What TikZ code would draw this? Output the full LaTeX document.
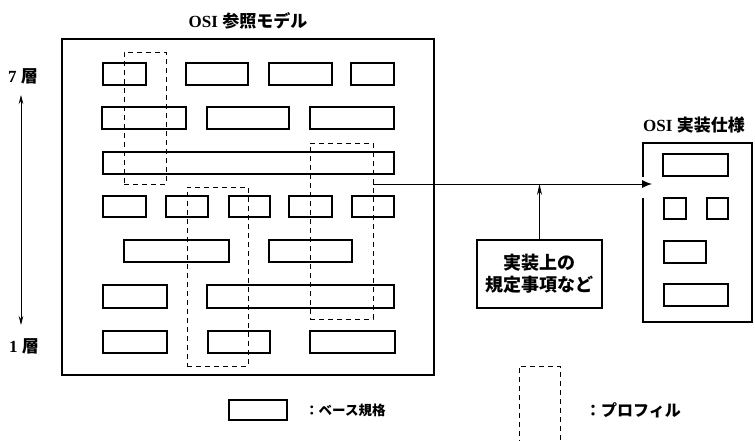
\documentclass[tikz,border=0pt]{standalone}
\usepackage{fontspec}
\setmainfont{Liberation Serif}
\newfontfamily\jp{Noto Sans CJK JP}
\usetikzlibrary{fit,arrows.meta}
\newcommand{\rbox}[6]{\node[#1, fit={(#3,#4) (#5,#6)}] (#2) {};}
\begin{document}
\begin{tikzpicture}[x=1pt,y=-1pt,
  bx/.style={draw, line width=1.3pt, inner sep=0pt, rectangle},
  frame/.style={draw, line width=1.8pt, inner sep=0pt, rectangle},
  prof/.style={draw, line width=0.9pt, inner sep=0pt, rectangle, dash pattern=on 5pt off 4pt},
  lbl/.style={inner sep=0pt, font=\bfseries\fontsize{17}{19}\selectfont},
  conn/.style={line width=1pt}
]
\useasboundingbox (0,0) rectangle (755,441);
% main frame
\rbox{frame}{main}{62}{39}{434}{375}
\node[lbl] (title) at (248,21) {OSI \jp 参照モデル};
% row 1
\rbox{bx}{r1a}{103}{63}{146}{85}
\rbox{bx}{r1b}{186}{63}{248}{85}
\rbox{bx}{r1c}{269}{63}{332}{85}
\rbox{bx}{r1d}{351}{63}{394}{85}
% row 2
\rbox{bx}{r2a}{102}{107}{186}{129}
\rbox{bx}{r2b}{207}{107}{289}{129}
\rbox{bx}{r2c}{310}{107}{394}{129}
% row 3
\rbox{bx}{r3}{103}{152}{394}{174}
% row 4
\rbox{bx}{r4a}{103}{196}{146}{217}
\rbox{bx}{r4b}{166}{196}{208}{217}
\rbox{bx}{r4c}{229}{196}{270}{217}
\rbox{bx}{r4d}{289}{196}{332}{217}
\rbox{bx}{r4e}{352}{196}{394}{217}
% row 5
\rbox{bx}{r5a}{124}{240}{229}{262}
\rbox{bx}{r5b}{269}{240}{352}{262}
% row 6
\rbox{bx}{r6a}{103}{285}{167}{308}
\rbox{bx}{r6b}{207}{285}{394}{308}
% row 7
\rbox{bx}{r7a}{103}{331}{167}{353}
\rbox{bx}{r7b}{208}{331}{270}{353}
\rbox{bx}{r7c}{310}{331}{395}{353}
% profiles
\rbox{prof}{p1}{124}{52}{166}{184}
\rbox{prof}{p2}{187}{187}{248}{366}
\rbox{prof}{p3}{310}{143}{373}{319}
% layer labels
\node[lbl] (l7) at (23,76) {7 \jp 層};
\node[lbl] (l1) at (24,346) {1 \jp 層};
\coordinate (at) at (21,95);
\coordinate (ab) at (21,325);
\draw[line width=0.8pt, {Stealth[length=9pt,width=4.5pt]}-{Stealth[length=9pt,width=4.5pt]}] (at) -- (ab);
% note box
\node[frame, minimum width=125pt, minimum height=68pt, align=center,
  font=\jp\bfseries\fontsize{18}{22}\selectfont] (note) at (539.5,274) {実装上の\\規定事項など};
% implementation frame
\rbox{frame}{impl}{643}{143}{752}{322}
\node[lbl] (ititle) at (694,125) {OSI \jp 実装仕様};
\rbox{bx}{i1}{663}{154}{728}{176}
\rbox{bx}{i2}{664}{198}{686}{219}
\rbox{bx}{i3}{707}{198}{728}{219}
\rbox{bx}{i4}{664}{241}{706}{263}
\rbox{bx}{i5}{664}{284}{728}{306}
% gap in frame edge
\fill[white] (640,177) rectangle (646,198);
% connectors
\coordinate (start) at (p3.east |- 0,184);
\coordinate (tip) at (652,184);
\draw[conn, -{Latex[length=10pt,width=8pt]}] (start) -- (tip);
\draw[conn, -{Stealth[length=11pt,width=5pt]}] (note.north) -- (note.north |- start);
% legend
\rbox{bx}{lb}{229}{400}{287}{420}
\node[lbl, anchor=west, font=\jp\bfseries\fontsize{13.5}{14}\selectfont] (lbt) at (305,410) {：ベース規格};
\draw[prof] (519,445) -- (519,366) -- (560,366) -- (560,445);
\coordinate (lp) at (560,410);
\node[lbl, anchor=west, font=\jp\bfseries\fontsize{16}{16}\selectfont] (lpt) at (585,410) {：プロフィル};
\end{tikzpicture}
\end{document}
